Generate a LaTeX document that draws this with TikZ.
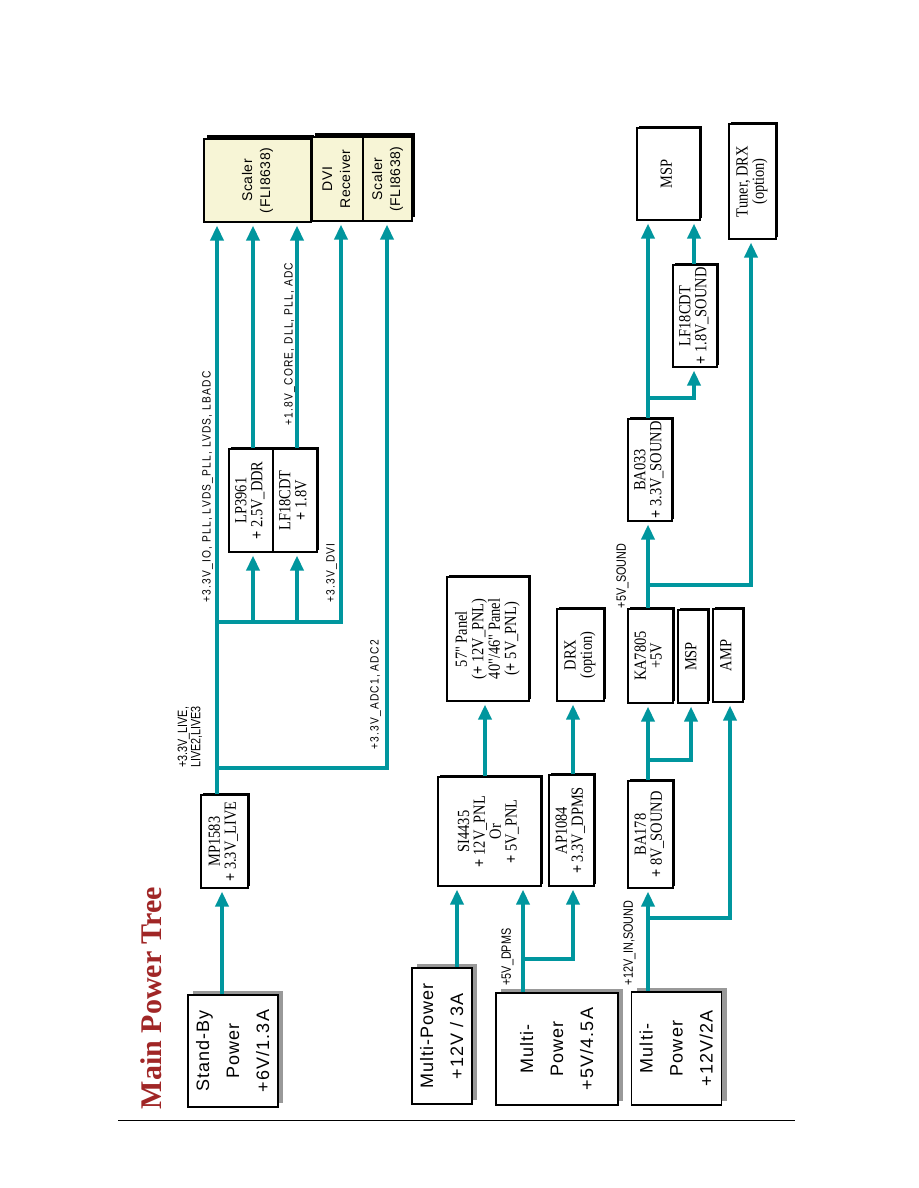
\documentclass[tikz,border=0pt]{standalone}
\usepackage{fontspec}
\setmainfont{Liberation Serif}
\newfontfamily\bat[FakeStretch=0.85,Ligatures=TeXOff]{Liberation Serif}
\newfontfamily\gul[LetterSpace=10,FakeStretch=0.85]{Liberation Sans}
\newfontfamily\scl[LetterSpace=4]{Liberation Sans}
\newfontfamily\pwr[LetterSpace=6]{Liberation Sans}
\newfontfamily\nar[FakeStretch=0.8]{Liberation Sans}
\usetikzlibrary{arrows.meta,shadows}
\definecolor{tealc}{RGB}{0,150,158}
\definecolor{scy}{RGB}{247,245,214}
\definecolor{titlered}{RGB}{160,38,38}
\newcommand\rt[1]{\rotatebox{90}{\begin{tabular}{@{}c@{}}#1\end{tabular}}}
\newcommand\rtl[1]{\rotatebox{90}{\begin{tabular}{@{}l@{}}#1\end{tabular}}}
\newcommand\pb{\textbf{+}}
\begin{document}
\begin{tikzpicture}[x=1pt,y=-1pt,
 sbox/.style={draw=black, line width=1.2pt, fill=white, inner sep=0pt,
   font=\bat\fontsize{17}{15.5}\selectfont,
   general shadow={fill=black, shadow xshift=1.8pt, shadow yshift=1.8pt}},
 ybox/.style={draw=black, line width=1.2pt, fill=scy, inner sep=0pt,
   font=\scl\fontsize{14}{18}\selectfont,
   general shadow={fill=black, shadow xshift=3pt, shadow yshift=4pt}},
 pbox/.style={draw=black, line width=1.2pt, fill=white, inner sep=0pt,
   font=\pwr\fontsize{18}{30}\selectfont,
   general shadow={fill=black!40, shadow xshift=5pt, shadow yshift=4.5pt}},
 wire/.style={draw=tealc, line width=3.5pt},
 arr/.style={wire, -{Triangle[length=15pt,width=13pt]}, shorten >=3pt},
 lab/.style={inner sep=0pt, font=\gul\fontsize{12}{13}\selectfont},
 nlab/.style={inner sep=0pt, font=\nar\fontsize{13.5}{13}\selectfont},
]
\useasboundingbox[fill=white] (0,0) rectangle (918,1188);

% title and rule
\node[inner sep=0pt, text=titlered, font=\bfseries\fontsize{30}{30}\selectfont] (title) at (151,998) {\rotatebox{90}{Main Power Tree}};
\draw[line width=1pt] (118,1120) -- (795,1120);

% upper group
\node[pbox, minimum width=88pt, minimum height=112pt] (standby) at (233,1051) {\rt{Stand-By\\Power\\+6V/1.3A}};
\node[sbox, minimum width=47pt, minimum height=93pt] (mp) at (224.5,841.5) {\rt{MP1583\\\pb\ 3.3V\_LIVE}};
\node[sbox, minimum width=44pt, minimum height=103pt] (lp) at (251,500.5) {\rt{LP3961\\\pb\ 2.5V\_DDR}};
\node[sbox, minimum width=44pt, minimum height=103pt] (lf) at (295,500.5) {\rt{LF18CDT\\\pb\ 1.8V}};
\node[ybox, minimum width=107pt, minimum height=83pt] (scaler1) at (257.5,180.5) {\rt{Scaler\\(FLI8638)}};
\node[ybox, minimum width=51pt, minimum height=84pt] (dvi) at (337.5,179) {\rt{DVI\\Receiver}};
\node[ybox, minimum width=49pt, minimum height=84pt] (scaler2) at (387.5,179) {\rt{Scaler\\(FLI8638)}};

% lower group
\node[pbox, minimum width=58pt, minimum height=136pt] (m12a) at (442,1036) {\rt{Multi-Power\\+12V / 3A}};
\node[pbox, minimum width=122pt, minimum height=112pt] (m5) at (557,1049) {\rt{Multi-\\Power\\+5V/4.5A}};
\node[pbox, minimum width=89pt, minimum height=113pt] (m12b) at (676.5,1048.5) {\rt{Multi-\\Power\\+12V/2A}};
\node[sbox, minimum width=103pt, minimum height=109pt] (si) at (489.5,831.5) {\rt{SI4435\\\pb\ 12V\_PNL\\Or\\\pb\ 5V\_PNL}};
\node[sbox, minimum width=45pt, minimum height=111pt] (ap) at (571.5,830.5) {\rt{AP1084\\\pb\ 3.3V\_DPMS}};
\node[sbox, minimum width=82pt, minimum height=124pt] (panel) at (488,639) {\rt{57" Panel\\(\pb\ 12V\_PNL)\\40"/46" Panel\\(\pb\ 5V\_PNL)}};
\node[sbox, minimum width=47pt, minimum height=92pt] (drx) at (580.5,655) {\rt{DRX\\(option)}};
\node[sbox, minimum width=45pt, minimum height=107pt] (ba178) at (650.5,834.5) {\rt{BA178\\\pb\ 8V\_SOUND}};
\node[sbox, minimum width=45pt, minimum height=94pt] (ka) at (650.5,656) {\rt{KA7805\\+5V}};
\node[sbox, minimum width=30pt, minimum height=93pt] (msps) at (693,656.5) {\rt{MSP}};
\node[sbox, minimum width=30pt, minimum height=93pt] (amp) at (728,655.5) {\rt{AMP}};
\node[sbox, minimum width=44pt, minimum height=102pt] (ba033) at (650,470) {\rt{BA033\\\pb\ 3.3V\_SOUND}};
\node[sbox, minimum width=44pt, minimum height=102pt] (lf18s) at (695,316) {\rt{LF18CDT\\\pb\ 1.8V\_SOUND}};
\node[sbox, minimum width=63pt, minimum height=92pt] (mspbig) at (668.5,174) {\rt{MSP}};
\node[sbox, minimum width=47pt, minimum height=115pt] (tuner) at (752.5,181.5) {\rt{Tuner, DRX\\(option)}};

% columns and rows
\coordinate (xS) at (222,0);
\coordinate (xA) at (217,0);
\coordinate (xB) at (253,0);
\coordinate (xC) at (297,0);
\coordinate (xD) at (341,0);
\coordinate (xE) at (387,0);
\coordinate (r1) at (0,622);
\coordinate (r2) at (0,768);
\coordinate (c1) at (457,0);
\coordinate (c2) at (523,0);
\coordinate (c3) at (573,0);
\coordinate (c4) at (485,0);
\coordinate (c5) at (648,0);
\coordinate (c6) at (730,0);
\coordinate (c7) at (691,0);
\coordinate (c8) at (751,0);
\coordinate (c9) at (694,0);
\coordinate (r3) at (0,959);
\coordinate (r4) at (0,918);
\coordinate (r5) at (0,760);
\coordinate (r6) at (0,585);
\coordinate (r7) at (0,398);

% upper wires
\draw[arr] (standby.north -| xS) -- (mp.south -| xS);
\draw[arr] (mp.north -| xA) -- (scaler1.south -| xA);
\draw[arr] (xA |- r1) -- (xD |- r1) -- (dvi.south -| xD);
\draw[arr] (xB |- r1) -- (lp.south -| xB);
\draw[arr] (xC |- r1) -- (lf.south -| xC);
\draw[arr] (lp.north -| xB) -- (scaler1.south -| xB);
\draw[arr] (lf.north -| xC) -- (scaler1.south -| xC);
\draw[arr] (xA |- r2) -- (xE |- r2) -- (scaler2.south -| xE);

% lower wires
\draw[arr] (m12a.north -| c1) -- (si.south -| c1);
\draw[arr] (m5.north -| c2) -- (si.south -| c2);
\draw[arr] (c2 |- r3) -- (c3 |- r3) -- (ap.south -| c3);
\draw[arr] (si.north -| c4) -- (panel.south -| c4);
\draw[arr] (ap.north -| c3) -- (drx.south -| c3);
\draw[arr] (m12b.north -| c5) -- (ba178.south -| c5);
\draw[arr] (c5 |- r4) -- (c6 |- r4) -- (amp.south -| c6);
\draw[arr] (ba178.north -| c5) -- (ka.south -| c5);
\draw[arr] (c5 |- r5) -- (c7 |- r5) -- (msps.south -| c7);
\draw[arr] (ka.north -| c5) -- (ba033.south -| c5);
\draw[arr] (c5 |- r6) -- (c8 |- r6) -- (tuner.south -| c8);
\draw[arr] (ba033.north -| c5) -- (mspbig.south -| c5);
\draw[arr] (c5 |- r7) -- (c9 |- r7) -- (lf18s.south -| c9);
\draw[arr] (lf18s.north -| c9) -- (mspbig.south -| c9);

% wire labels
\node[nlab] (lLive) at (191,737) {\rtl{+3.3V\_LIVE,\\LIVE2,LIVE3}};
\node[lab] (lIO) at (208,487) {\rt{+3.3V\_IO, PLL, LVDS\_PLL, LVDS, LBADC}};
\node[lab] (lCore) at (290,344) {\rt{+1.8V\_CORE, DLL, PLL, ADC}};
\node[lab] (lDVI) at (332,573) {\rt{+3.3V\_DVI}};
\node[lab] (lADC) at (376,695) {\rt{+3.3V\_ADC1, ADC2}};
\node[nlab] (lDPMS) at (508,957) {\rt{+5V\_DPMS}};
\node[nlab] (lIN) at (630,943) {\rt{+12V\_IN,SOUND}};
\node[nlab] (lSnd) at (623,576) {\rt{+5V\_SOUND}};
\end{tikzpicture}
\end{document}
